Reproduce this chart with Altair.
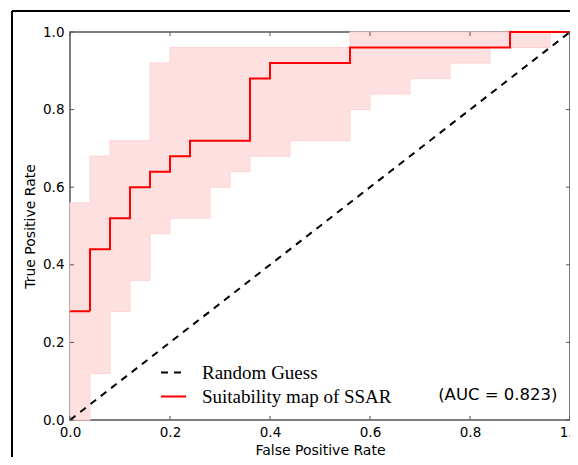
import altair as alt
import pandas as pd

# ---- data ----
series_names = ["Random Guess", "Suitability map of SSAR"]

diag_x = [0.0, 1.0]
diag_y = [0.0, 1.0]

roc_fpr = [0.00, 0.04, 0.08, 0.12, 0.16, 0.20, 0.24, 0.36, 0.40, 0.56, 0.88, 1.00]
roc_tpr = [0.28, 0.44, 0.52, 0.60, 0.64, 0.68, 0.72, 0.88, 0.92, 0.96, 1.00, 1.00]

band_x = [0.00, 0.04, 0.08, 0.12, 0.16, 0.20, 0.28, 0.32, 0.36, 0.44, 0.56, 0.60, 0.68, 0.76, 0.84, 0.96, 1.00]
band_upper = [0.56, 0.68, 0.72, 0.72, 0.92, 0.96, 0.96, 0.96, 0.96, 0.96, 1.00, 1.00, 1.00, 1.00, 1.00, 1.00, 1.00]
band_lower = [0.00, 0.12, 0.28, 0.36, 0.48, 0.52, 0.60, 0.64, 0.68, 0.72, 0.80, 0.84, 0.88, 0.92, 0.96, 1.00, 1.00]

tick_values = [0.0, 0.2, 0.4, 0.6, 0.8, 1.0]
auc_label = "(AUC = 0.823)"
auc_pos = (0.975, 0.064)

W, H = 500, 388
AXIS_FONT = "DejaVu Sans"
SPINE = "#555555"

xscale = alt.Scale(domain=[0, 1], nice=False, zero=False)
yscale = alt.Scale(domain=[0, 1], nice=False, zero=False)

xaxis = alt.Axis(values=tick_values, format=".1f", title="False Positive Rate",
                 ticks=False, domain=False, grid=False, labelPadding=5,
                 labelFont=AXIS_FONT, labelFontSize=13.5, labelColor="black",
                 titleFont=AXIS_FONT, titleFontSize=14, titleFontWeight="normal",
                 titleColor="black", titlePadding=5, labelFlush=False)
yaxis = alt.Axis(values=tick_values, format=".1f", title="True Positive Rate",
                 ticks=False, domain=False, grid=False, labelPadding=6,
                 labelFont=AXIS_FONT, labelFontSize=13.5, labelColor="black",
                 titleFont=AXIS_FONT, titleFontSize=14, titleFontWeight="normal",
                 titleColor="black", titlePadding=5, labelFlush=False)

band_df = pd.DataFrame({"x": band_x, "upper": band_upper, "lower": band_lower})
diag_df = pd.DataFrame({"x": diag_x, "y": diag_y, "series": series_names[0],
                        "i": range(len(diag_x))})
roc_df = pd.DataFrame({"x": roc_fpr, "y": roc_tpr, "series": series_names[1],
                       "i": range(len(roc_fpr))})
tick_df = pd.DataFrame({"v": tick_values})

legend = alt.Legend(orient="none", legendX=90, legendY=327, title=None,
                    symbolType="stroke", symbolSize=625, symbolStrokeWidth=2,
                    labelFont="Liberation Serif", labelFontSize=19, labelLimit=500,
                    labelColor="black", labelOffset=15, rowPadding=0, padding=0)

color = alt.Color("series:N", scale=alt.Scale(domain=series_names, range=["black", "#ff0000"]),
                  legend=legend)
dash = alt.StrokeDash("series:N", scale=alt.Scale(domain=series_names, range=[[7, 6], [1, 0]]),
                      legend=legend)

band = alt.Chart(band_df).mark_area(
    interpolate="step-after", color="#ffe0e0", stroke="#ffd2d2", strokeWidth=1
).encode(
    x=alt.X("x:Q", scale=xscale, axis=xaxis),
    y=alt.Y("upper:Q", scale=yscale, axis=yaxis),
    y2="lower:Q",
)

diag = alt.Chart(diag_df).mark_line(strokeWidth=2).encode(
    x="x:Q", y="y:Q", color=color, strokeDash=dash, order="i:Q"
)

roc = alt.Chart(roc_df).mark_line(interpolate="step-after", strokeWidth=2).encode(
    x="x:Q", y="y:Q", color=color, strokeDash=dash, order="i:Q"
)

auc = alt.Chart(pd.DataFrame({"x": [auc_pos[0]], "y": [auc_pos[1]], "t": [auc_label]})).mark_text(
    align="right", baseline="middle", font=AXIS_FONT, fontSize=16.5, color="black"
).encode(x="x:Q", y="y:Q", text="t:N")

tk = alt.Chart(tick_df)
tick_b = tk.mark_rule(color=SPINE).encode(x="v:Q", y=alt.value(H), y2=alt.value(H - 4))
tick_t = tk.mark_rule(color=SPINE).encode(x="v:Q", y=alt.value(0), y2=alt.value(4))
tick_l = tk.mark_rule(color=SPINE).encode(y="v:Q", x=alt.value(0), x2=alt.value(4))
tick_r = tk.mark_rule(color=SPINE).encode(y="v:Q", x=alt.value(W), x2=alt.value(W - 4))

one = alt.Chart(pd.DataFrame({"a": [0]}))
frame_top = one.mark_rule(color="black", strokeWidth=2).encode(
    x=alt.value(-58), x2=alt.value(W + 30), y=alt.value(-21))
frame_left = one.mark_rule(color="black", strokeWidth=2).encode(
    x=alt.value(-58), y=alt.value(-21), y2=alt.value(H + 80))

chart = alt.layer(
    band, diag, roc, auc, tick_b, tick_t, tick_l, tick_r, frame_top, frame_left
).properties(
    width=W, height=H,
    autosize=alt.AutoSizeParams(type="none"),
    padding={"left": 62, "top": 24, "right": 0, "bottom": 37},
    background="white",
).configure_view(stroke=SPINE, strokeWidth=1.5)

chart.save("out.html", embed_options={"renderer": "svg", "actions": False})
